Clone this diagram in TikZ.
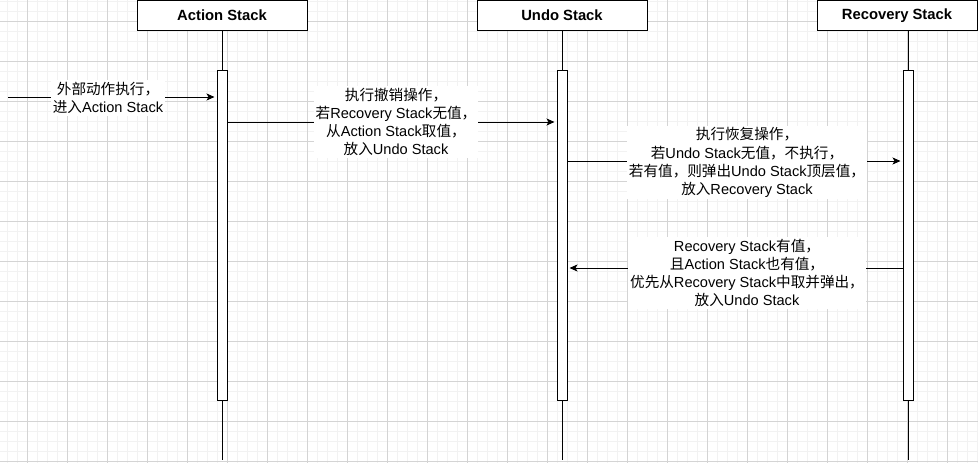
\documentclass[tikz,border=0pt]{standalone}
\usepackage{fontspec}
\setmainfont{Liberation Sans}
\newfontfamily\cjk{Noto Sans CJK SC}
\usetikzlibrary{arrows.meta}
\newcommand\zh[1]{{\cjk #1}}
\begin{document}
\begin{tikzpicture}[x=1pt,y=-1pt,
  minorgrid/.style={draw=black!5,line width=1pt},
  majorgrid/.style={draw=black!17,line width=1pt},
  head/.style={draw,fill=white,line width=1pt,minimum height=30pt,inner sep=0pt,font=\bfseries\fontsize{14.8}{17}\selectfont},
  actbar/.style={draw,fill=white,line width=1pt,minimum width=10pt,minimum height=330pt,inner sep=0pt},
  life/.style={line width=1pt},
  msg/.style={line width=1pt,-{Stealth[length=8pt,width=7pt,inset=2pt]},shorten >=2pt},
  lbl/.style={fill=white,inner sep=2pt,align=center,font=\fontsize{14.6}{18.2}\selectfont}]
\useasboundingbox (0,0) rectangle (978,463);
\fill[white] (0,0) rectangle (978,463);
% grid
\foreach \x in {7,17,...,977} \draw[minorgrid] (\x,0) -- (\x,463);
\foreach \y in {1,11,...,461} \draw[minorgrid] (0,\y) -- (978,\y);
\foreach \x in {27,67,...,947} \draw[majorgrid] (\x,0) -- (\x,463);
\foreach \y in {21,61,...,461} \draw[majorgrid] (0,\y) -- (978,\y);
% headers
\node[head,minimum width=170pt] (h1) at (222,15.5) {Action Stack};
\node[head,minimum width=170pt] (h2) at (562,15.5) {Undo Stack};
\node[head,minimum width=160pt] (h3) at (897,15.5) {Recovery Stack};
% activations
\node[actbar] (act1) at (222,235) {};
\node[actbar] (act2) at (562,235) {};
\node[actbar] (act3) at (908,235) {};
% lifelines
\coordinate (e1) at (222,460);
\coordinate (e2) at (562,460);
\coordinate (e3) at (908,460);
\draw[life] (h1.south) -- (act1.north);
\draw[life] (h2.south) -- (act2.north);
\draw[life] (act3.north |- h3.south) -- (act3.north);
\draw[life] (act1.south) -- (e1);
\draw[life] (act2.south) -- (e2);
\draw[life] (act3.south) -- (e3);
% messages
\coordinate (ext) at (8,97);
\coordinate (y2) at (0,122);
\coordinate (y3) at (0,161);
\coordinate (y4) at (0,268);
\draw[msg] (ext) -- (ext -| act1.west);
\draw[msg] (act1.east |- y2) -- (act2.west |- y2);
\draw[msg] (act2.east |- y3) -- (act3.west |- y3);
\draw[msg] (act3.west |- y4) -- (act2.east |- y4);
% labels
\node[lbl] (l1) at (108,98) {\zh{外部动作执行，}\\\zh{进入}Action Stack};
\node[lbl] (l2) at (396,122) {\zh{执行撤销操作，}\\\zh{若}Recovery Stack\zh{无值，}\\\zh{从}Action Stack\zh{取值，}\\\zh{放入}Undo Stack};
\node[lbl] (l3) at (747,162.5) {\zh{执行恢复操作，}\\\zh{若}Undo Stack\zh{无值，不执行，}\\\zh{若有值，则弹出}Undo Stack\zh{顶层值，}\\\zh{放入}Recovery Stack};
\node[lbl] (l4) at (747,273) {Recovery Stack\zh{有值，}\\\zh{且}Action Stack\zh{也有值，}\\\zh{优先从}Recovery Stack\zh{中取并弹出，}\\\zh{放入}Undo Stack};
\end{tikzpicture}
\end{document}
